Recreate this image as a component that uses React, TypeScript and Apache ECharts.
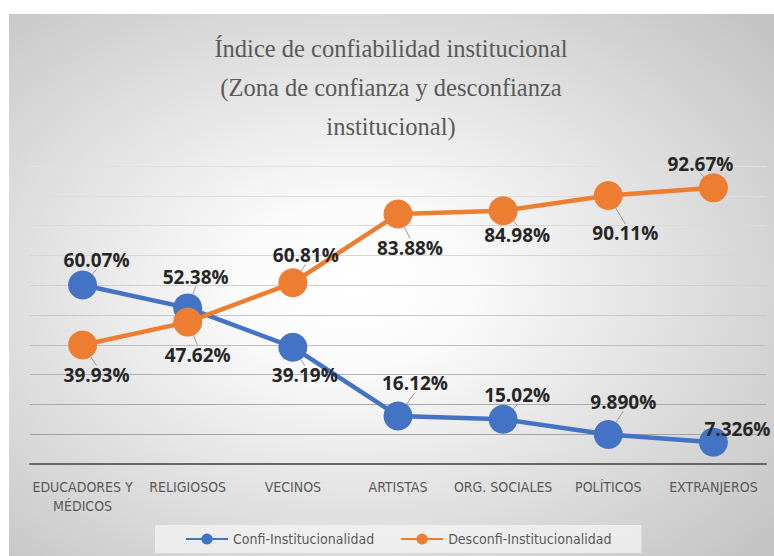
import React, { useEffect, useRef } from "react";
import * as echarts from "echarts";

const categories = [
  "EDUCADORES Y\nMÉDICOS",
  "RELIGIOSOS",
  "VECINOS",
  "ARTISTAS",
  "ORG. SOCIALES",
  "POLÍTICOS",
  "EXTRANJEROS",
];
const confiValues = [60.07, 52.38, 39.19, 16.12, 15.02, 9.89, 7.326];
const desconfiValues = [39.93, 47.62, 60.81, 83.88, 84.98, 90.11, 92.67];
const seriesNames = ["Confi-Institucionalidad", "Desconfi-Institucionalidad"];
const titleLines = [
  "Índice de confiabilidad institucional",
  "(Zona de confianza y desconfianza",
  "institucional)",
];

// label offsets (style) relative to marker centre
const confiLabelOffsets = [
  [14, -25], [8, -31], [12, 28], [17, -33], [14, -24], [15, -33], [24, -13],
];
const desconfiLabelOffsets = [
  [14, 30], [10, 33], [13, -28], [12, 34], [14, 24], [17, 38], [-13, -24],
];

const narrow = "'Liberation Sans Narrow', 'DejaVu Sans Condensed', Roboto, sans-serif";

export default function App() {
  const ref = useRef<HTMLDivElement>(null);
  useEffect(() => {
    document.body.style.margin = "0";
    const chart = echarts.init(ref.current!, null, { renderer: "svg" });
    const labelCommon = {
      show: true,
      position: "inside",
      formatter: (p: any) => Number(p.value).toPrecision(4) + "%",
      color: "#262626",
      fontFamily: "'Open Sans', sans-serif",
      fontWeight: "bold",
      fontSize: 19,
    };
    const labelLine = { show: true, lineStyle: { color: "#9a9a9a", width: 1 } };
    chart.setOption({
      animation: false,
      backgroundColor: "#ffffff",
      graphic: [
        {
          type: "rect",
          z: -10,
          silent: true,
          shape: { x: 9, y: 14, width: 765, height: 542 },
          style: {
            fill: new echarts.graphic.RadialGradient(0.45, 0.5, 0.72, [
              { offset: 0, color: "#ffffff" },
              { offset: 0.2, color: "#fbfbfb" },
              { offset: 1, color: "#c4c4c4" },
            ]),
          },
        },
      ],
      title: {
        text: titleLines.join("\n"),
        left: 391,
        top: 29,
        textAlign: "center",
        padding: 0,
        textStyle: {
          fontFamily: "'Liberation Serif', serif",
          fontSize: 24.5,
          fontWeight: "normal",
          color: "#595959",
          lineHeight: 39,
        },
      },
      legend: {
        data: seriesNames,
        left: 155,
        top: 525,
        padding: [7, 30, 7, 30],
        itemWidth: 42,
        itemHeight: 14,
        itemGap: 26,
        backgroundColor: "rgba(246,246,246,0.7)",
        textStyle: { color: "#595959", fontSize: 14, fontFamily: narrow },
      },
      grid: { left: 30, right: 8, top: 166, bottom: 92 },
      xAxis: {
        type: "category",
        data: categories,
        boundaryGap: true,
        axisLine: { lineStyle: { color: "#666666", width: 2 } },
        axisTick: { show: false },
        axisLabel: {
          color: "#595959",
          fontSize: 14,
          fontFamily: narrow,
          lineHeight: 19,
          margin: 13,
          interval: 0,
        },
      },
      yAxis: {
        type: "value",
        min: 0,
        max: 100,
        interval: 10,
        axisLabel: { show: false },
        axisLine: { show: false },
        axisTick: { show: false },
        splitLine: {
          lineStyle: {
            width: 1,
            color: [
              "#8c8c8c", "#a3a3a3", "#a9a9a9", "#b3b3b3", "#bebebe", "#c8c8c8",
              "#d0d0d0", "#d6d6d6", "#dadada", "#dddddd", "#e0e0e0",
            ],
          },
        },
      },
      series: [
        {
          name: seriesNames[0],
          type: "line",
          data: confiValues,
          color: "#4472C4",
          symbol: "circle",
          symbolSize: 29,
          lineStyle: { width: 4.5, color: "#4472C4" },
          itemStyle: { color: "#4472C4" },
          label: labelCommon,
          labelLine,
          labelLayout: (p: any) => ({
            dx: confiLabelOffsets[p.dataIndex][0],
            dy: confiLabelOffsets[p.dataIndex][1],
          }),
          z: 2,
        },
        {
          name: seriesNames[1],
          type: "line",
          data: desconfiValues,
          color: "#ED7D31",
          symbol: "circle",
          symbolSize: 29,
          lineStyle: { width: 4.5, color: "#ED7D31" },
          itemStyle: { color: "#ED7D31" },
          label: labelCommon,
          labelLine,
          labelLayout: (p: any) => ({
            dx: desconfiLabelOffsets[p.dataIndex][0],
            dy: desconfiLabelOffsets[p.dataIndex][1],
          }),
          z: 3,
        },
      ],
    });
    return () => chart.dispose();
  }, []);
  return <div ref={ref} style={{ width: 774, height: 556 }} />;
}
